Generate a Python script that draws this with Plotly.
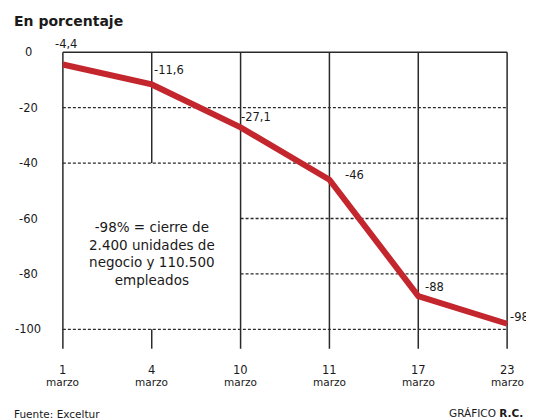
import plotly.graph_objects as go

dates = ["1", "4", "10", "11", "17", "23"]
month = "marzo"
values = [-4.4, -11.6, -27.1, -46, -88, -98]
labels = ["-4,4", "-11,6", "-27,1", "-46", "-88", "-98"]
y_ticks = [0, -20, -40, -60, -80, -100]

LINE = "#c4262e"
INK = "#1a1a1a"
GRID = "#2a2a2a"
FONT = "DejaVu Sans"

xs = list(range(len(dates)))

fig = go.Figure()
fig.add_trace(go.Scatter(
    x=xs, y=values, mode="lines",
    line=dict(color=LINE, width=6),
    hoverinfo="skip", showlegend=False,
))

shapes = []
shapes.append(dict(type="line", xref="x", yref="y", x0=0, x1=5, y0=0, y1=0,
                   line=dict(color=GRID, width=1.5), layer="below"))
for i in xs:
    segs = [(0, -40), (-100, -107)] if i == 1 else [(0, -107)]
    for a, b in segs:
        shapes.append(dict(type="line", xref="x", yref="y", x0=i, x1=i, y0=a, y1=b,
                           line=dict(color=GRID, width=1.5), layer="below"))
for yv in [-20, -40, -60, -80, -100]:
    x0 = 2 if yv in (-60, -80) else 0
    shapes.append(dict(type="line", xref="x", yref="y", x0=x0, x1=5, y0=yv, y1=yv,
                       line=dict(color=GRID, width=1.3, dash="3px,2px"), layer="below"))

annotations = []
shifts = [(3, 21), (17, 14), (15, 10), (25, 4.5), (16, 9), (12, 6.5)]
for i, (v, t) in enumerate(zip(values, labels)):
    dx, dy = shifts[i]
    annotations.append(dict(x=i, y=v, text=t, showarrow=False, xshift=dx, yshift=dy,
                            xanchor="center", yanchor="middle",
                            font=dict(family=FONT, size=11.5, color=INK)))

for i, d in enumerate(dates):
    annotations.append(dict(x=i, y=-0.042, xref="x", yref="paper", text=d, showarrow=False,
                            xanchor="center", yanchor="middle",
                            font=dict(family=FONT, size=11.5, color=INK)))
    annotations.append(dict(x=i, y=-0.079, xref="x", yref="paper", text=month, showarrow=False,
                            xanchor="center", yanchor="middle",
                            font=dict(family=FONT, size=10.5, color=INK)))
for t in y_ticks:
    annotations.append(dict(x=-0.056, y=t, xref="paper", yref="y", text=str(t), showarrow=False,
                            xanchor="center", yanchor="middle",
                            font=dict(family=FONT, size=11.5, color=INK)))

annotations.append(dict(x=1, y=-72.5, xref="x", yref="y", showarrow=False,
                        text="-98% = cierre de<br>2.400 unidades de<br>negocio y 110.500<br>empleados",
                        font=dict(family=FONT, size=13.5, color=INK), align="center"))
annotations.append(dict(x=-0.091, y=1.075, xref="paper", yref="paper", xanchor="left", yanchor="middle",
                        showarrow=False, text="<b>En porcentaje</b>",
                        font=dict(family=FONT, size=14, color=INK)))
annotations.append(dict(x=-0.091, y=-0.182, xref="paper", yref="paper", xanchor="left", yanchor="middle",
                        showarrow=False, text="Fuente: Exceltur",
                        font=dict(family=FONT, size=10.5, color=INK)))
annotations.append(dict(x=1.0195, y=-0.179, xref="paper", yref="paper", xanchor="right", yanchor="middle",
                        showarrow=False, text="GRÁFICO <b>R.C.</b>",
                        font=dict(family=FONT, size=10.5, color=INK)))

fig.update_layout(
    width=526, height=411,
    margin=dict(l=46, r=18, t=36, b=62),
    paper_bgcolor="white", plot_bgcolor="white",
    shapes=shapes, annotations=annotations,
    xaxis=dict(range=[-0.1, 5.1], showticklabels=False,
               showgrid=False, zeroline=False, showline=False, ticks="", fixedrange=True),
    yaxis=dict(range=[-110, 3], showticklabels=False,
               showgrid=False, zeroline=False, showline=False, ticks="", fixedrange=True),
)

fig.write_html("out.html")
